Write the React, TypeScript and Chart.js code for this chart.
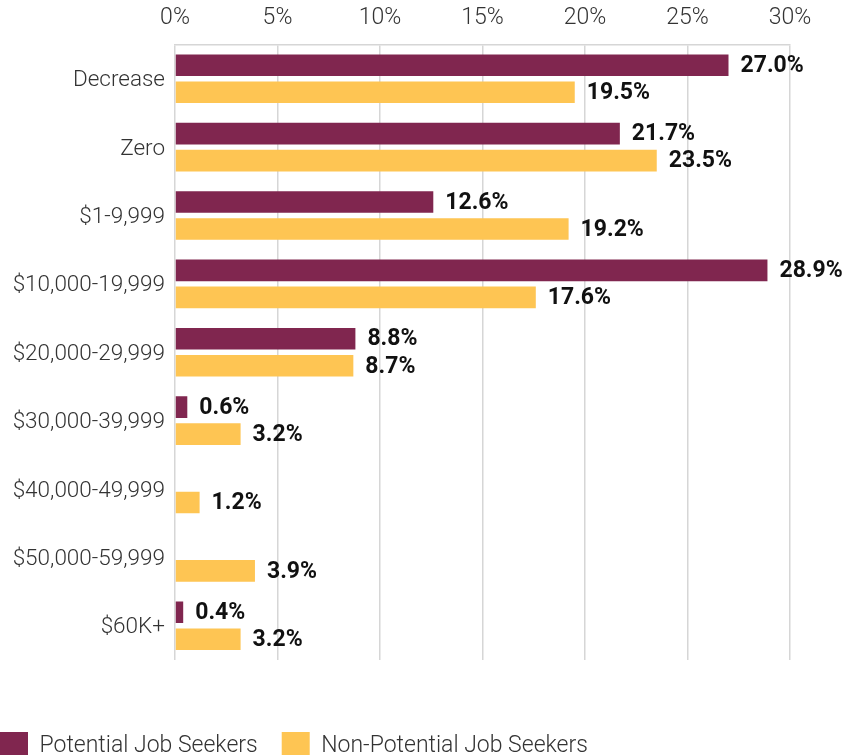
import React, { useEffect, useRef } from "react";
import { Chart, registerables } from "chart.js";

Chart.register(...registerables);

const categories = [
  "Decrease",
  "Zero",
  "$1-9,999",
  "$10,000-19,999",
  "$20,000-29,999",
  "$30,000-39,999",
  "$40,000-49,999",
  "$50,000-59,999",
  "$60K+",
];

const potentialSeekers: (number | null)[] = [27.0, 21.7, 12.6, 28.9, 8.8, 0.6, null, null, 0.4];
const nonPotentialSeekers: (number | null)[] = [19.5, 23.5, 19.2, 17.6, 8.7, 3.2, 1.2, 3.9, 3.2];

const seriesNames = ["Potential Job Seekers", "Non-Potential Job Seekers"];
const xTickMax = 30;
const xTickStep = 5;

const PURPLE = "#80264f";
const YELLOW = "#fec553";
const GRID = "#d6d6d6";
const TEXT = "#333333";

const valueLabels = {
  id: "valueLabels",
  afterDatasetsDraw(chart: any) {
    const ctx = chart.ctx;
    ctx.save();
    ctx.font = "bold 23px Roboto";
    ctx.fillStyle = "#111111";
    ctx.textAlign = "left";
    ctx.textBaseline = "middle";
    chart.data.datasets.forEach((ds: any, di: number) => {
      const meta = chart.getDatasetMeta(di);
      meta.data.forEach((el: any, i: number) => {
        const v = ds.data[i];
        if (v === null || v === undefined) return;
        ctx.fillText(v.toFixed(1) + "%", el.x + 12, el.y + 1);
      });
    });
    ctx.restore();
  },
};

export default function App() {
  const canvasRef = useRef<HTMLCanvasElement | null>(null);

  useEffect(() => {
    if (!canvasRef.current) return;
    const chart = new Chart(canvasRef.current, {
      type: "bar",
      data: {
        labels: categories,
        datasets: [
          {
            label: seriesNames[0],
            data: potentialSeekers,
            backgroundColor: PURPLE,
            borderWidth: 0,
            categoryPercentage: 0.79,
            barPercentage: 0.8,
          },
          {
            label: seriesNames[1],
            data: nonPotentialSeekers,
            backgroundColor: YELLOW,
            borderWidth: 0,
            categoryPercentage: 0.79,
            barPercentage: 0.8,
          },
        ],
      },
      options: {
        indexAxis: "y",
        animation: false,
        responsive: true,
        maintainAspectRatio: false,
        layout: { padding: { left: 0, right: 68, top: 0, bottom: 0 } },
        scales: {
          x: {
            position: "top",
            min: 0,
            max: xTickMax,
            ticks: {
              stepSize: xTickStep,
              padding: 12,
              color: TEXT,
              font: { family: "Roboto", size: 23, weight: "300" },
              callback: (v: any) => v + "%",
            },
            grid: { color: GRID, lineWidth: 1.5, drawTicks: false },
            border: { display: true, color: GRID, width: 1.5 },
            afterFit: (scale: any) => {
              scale.height = 44.5;
            },
          },
          y: {
            ticks: {
              padding: 10,
              labelOffset: 2,
              color: TEXT,
              font: { family: "Roboto", size: 22.5, weight: "300" },
            },
            grid: { display: false, drawTicks: false },
            border: { display: false },
            afterFit: (scale: any) => {
              scale.width = 199;
            },
          },
          spacer: {
            type: "linear",
            position: "bottom",
            display: true,
            ticks: { display: false },
            grid: { display: false, drawTicks: false },
            border: { display: false },
            afterFit: (scale: any) => {
              scale.height = 48;
            },
          },
        },
        plugins: {
          legend: {
            position: "bottom",
            align: "start",
            labels: {
              boxWidth: 28,
              boxHeight: 28,
              padding: 24,
              color: TEXT,
              font: { family: "Roboto", size: 23, weight: "300" },
            },
          },
          tooltip: { enabled: false },
        },
      } as any,
      plugins: [valueLabels],
    });
    return () => chart.destroy();
  }, []);

  return (
    <div
      style={{
        position: "fixed",
        left: 0,
        top: 0,
        width: 858,
        height: 755,
        overflow: "hidden",
        background: "#ffffff",
      }}
    >
      <div style={{ position: "relative", marginLeft: -24, width: 882, height: 770 }}>
        <canvas ref={canvasRef} />
      </div>
    </div>
  );
}
